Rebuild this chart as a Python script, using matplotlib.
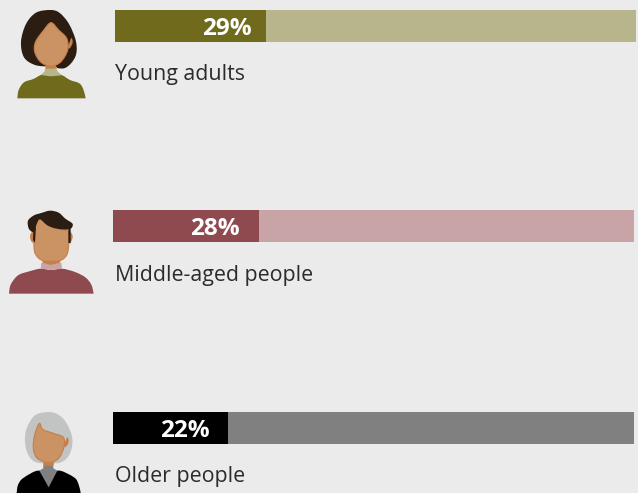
import matplotlib
matplotlib.use("Agg")
import matplotlib.pyplot as plt
from matplotlib.patches import PathPatch, Polygon
from matplotlib.path import Path

W, H = 638, 493
BG = "#ebebeb"

# Survey shares
groups = ["Young adults", "Middle-aged people", "Older people"]
shares = [29, 28, 22]
total = [100, 100, 100]
dark_colors = ["#6f6a1c", "#8f4a50", "#000000"]
light_colors = ["#b8b58d", "#c8a4a7", "#808080"]

plt.rcParams["font.family"] = ["Open Sans", "DejaVu Sans"]
fig = plt.figure(figsize=(W / 100, H / 100), dpi=100, facecolor=BG)


def smooth(points, tension=1 / 6):
    """Closed Catmull-Rom outline as a Bezier path."""
    n = len(points)
    verts = [points[0]]
    codes = [Path.MOVETO]
    for i in range(n):
        p0, p1, p2, p3 = (points[(i + k) % n] for k in (-1, 0, 1, 2))
        c1 = (p1[0] + (p2[0] - p0[0]) * tension, p1[1] + (p2[1] - p0[1]) * tension)
        c2 = (p2[0] - (p3[0] - p1[0]) * tension, p2[1] - (p3[1] - p1[1]) * tension)
        verts += [c1, c2, p2]
        codes += [Path.CURVE4] * 3
    return Path(verts, codes)


def open_curve(points, tension=1 / 6):
    """Curved run through the points, closed by a straight base line."""
    n = len(points)
    verts = [points[0]]
    codes = [Path.MOVETO]
    for i in range(n - 1):
        p0 = points[max(i - 1, 0)]
        p1, p2 = points[i], points[i + 1]
        p3 = points[min(i + 2, n - 1)]
        c1 = (p1[0] + (p2[0] - p0[0]) * tension, p1[1] + (p2[1] - p0[1]) * tension)
        c2 = (p2[0] - (p3[0] - p1[0]) * tension, p2[1] - (p3[1] - p1[1]) * tension)
        verts += [c1, c2, p2]
        codes += [Path.CURVE4] * 3
    verts.append(points[0])
    codes.append(Path.LINETO)
    return Path(verts, codes)


# Full-figure overlay in pixel units for the portraits and captions
art = fig.add_axes([0, 0, 1, 1], zorder=3)
art.set_xlim(0, W)
art.set_ylim(H, 0)
art.axis("off")


def scaled(outline, ox, oy):
    # Outlines are sketched at triple scale
    return [(ox + x / 3, oy + y / 3) for x, y in outline]


def blob(outline, color, ox, oy, z=2, edge=None, lw=0):
    art.add_patch(PathPatch(smooth(scaled(outline, ox, oy)), fc=color, ec=edge or "none", lw=lw, zorder=z))


def body(outline, color, ox, oy, z=3):
    art.add_patch(PathPatch(open_curve(scaled(outline, ox, oy)), fc=color, ec="none", lw=0, zorder=z))


def poly(outline, color, ox, oy, z=2):
    art.add_patch(Polygon(scaled(outline, ox, oy), closed=True, fc=color, ec="none", zorder=z))


HAIR = "#2b1d12"
SKIN = "#cb9264"
SKIN_DARK = "#c67f48"

# Young woman
oy = 0
blob([(150, 30), (108, 38), (78, 72), (63, 125), (72, 172), (105, 195), (150, 200), (195, 204),
      (226, 170), (228, 125), (207, 72), (178, 38)], HAIR, 0, oy, 2)
body([(52, 295), (56, 270), (72, 247), (100, 237), (126, 224), (150, 226), (182, 224),
      (210, 240), (238, 250), (250, 268), (257, 295)], "#6f6a1c", 0, oy, 3)
poly([(136, 200), (170, 200), (172, 214), (186, 226), (152, 229), (122, 225), (134, 214)],
     "#b8b58d", 0, oy, 4)
poly([(136, 190), (170, 190), (166, 206), (138, 206)], SKIN_DARK, 0, oy, 5)
blob([(204, 142), (214, 114), (218, 128), (210, 144)], SKIN_DARK, 0, oy, 5)
blob([(153, 68), (130, 92), (107, 125), (104, 155), (122, 186), (152, 198), (182, 186),
      (203, 150), (200, 115), (176, 90)], SKIN, 0, oy, 6, SKIN_DARK, 0.8)

# Middle-aged man
oy = 200
body([(27, 281), (32, 254), (54, 226), (88, 214), (122, 206), (154, 210), (186, 206), (225, 216),
      (256, 232), (274, 254), (281, 281)], "#8f4a50", 0, oy, 2)
poly([(124, 188), (184, 188), (186, 206), (154, 210), (122, 206)], "#c8a4a7", 0, oy, 3)
blob([(90, 108), (98, 96), (106, 120), (104, 130), (94, 124)], SKIN_DARK, 0, oy, 3)
blob([(218, 108), (210, 96), (204, 120), (204, 130), (214, 124)], SKIN_DARK, 0, oy, 3)
poly([(126, 168), (182, 168), (180, 188), (152, 195), (128, 188)], SKIN_DARK, 0, oy, 4)
blob([(104, 90), (102, 140), (108, 165), (130, 182), (178, 182), (200, 165), (206, 135),
      (206, 95), (160, 84), (120, 58)], SKIN, 0, oy, 5, SKIN_DARK, 0.8)
blob([(84, 62), (102, 46), (124, 39), (150, 32), (176, 38), (196, 56), (218, 72), (208, 88),
      (170, 86), (142, 76), (120, 58), (110, 72), (104, 92), (97, 96), (86, 85)], HAIR, 0, oy, 6)
poly([(100, 90), (108, 80), (105, 128), (99, 120)], HAIR, 0, oy, 6)
poly([(205, 85), (212, 85), (212, 130), (205, 128)], HAIR, 0, oy, 6)

# Older woman
oy = 400
blob([(145, 36), (105, 46), (80, 85), (75, 125), (85, 165), (112, 188), (180, 188),
      (210, 160), (217, 115), (200, 70), (175, 44)], "#c2c4c4", 0, oy, 2)
body([(50, 279), (54, 255), (70, 234), (118, 212), (146, 250), (172, 212), (222, 232),
      (236, 254), (242, 279)], "#000000", 0, oy, 3)
poly([(130, 190), (160, 190), (160, 205), (172, 212), (146, 262), (118, 212), (130, 205)],
     "#808080", 0, oy, 4)
poly([(130, 180), (162, 180), (160, 198), (132, 198)], SKIN_DARK, 0, oy, 5)
blob([(192, 136), (202, 112), (206, 126), (198, 140)], SKIN_DARK, 0, oy, 5)
blob([(118, 70), (104, 105), (100, 145), (112, 175), (146, 188), (176, 175), (192, 140),
      (190, 112), (160, 100), (128, 88)], SKIN, 0, oy, 6, SKIN_DARK, 0.8)

# One 0-100 axis per group, placed at the bar's pixel position
bar_boxes = [(115, 10), (113, 210), (113, 412)]
bar_w, bar_h = 521, 32
label_right = [251.5, 239.5, 209.5]
caption_y = [72, 273, 474]

for i, group in enumerate(groups):
    left, top = bar_boxes[i]
    ax = fig.add_axes([left / W, 1 - (top + bar_h) / H, bar_w / W, bar_h / H], zorder=2)
    ax.barh([0], [total[i]], height=1, color=light_colors[i], linewidth=0)
    ax.barh([0], [shares[i]], height=1, color=dark_colors[i], linewidth=0)
    ax.set_xlim(0, 100)
    ax.set_ylim(-0.5, 0.5)
    ax.axis("off")
    art.text(label_right[i], top + bar_h / 2, f"{shares[i]}%", color="white", fontsize=17.5,
             fontweight="bold", ha="right", va="center_baseline", zorder=7)
    art.text(115, caption_y[i], group, color="#2b2b2b", fontsize=15.4, ha="left",
             va="center_baseline", zorder=7)

fig.savefig("out.png", dpi=100, facecolor=BG)
